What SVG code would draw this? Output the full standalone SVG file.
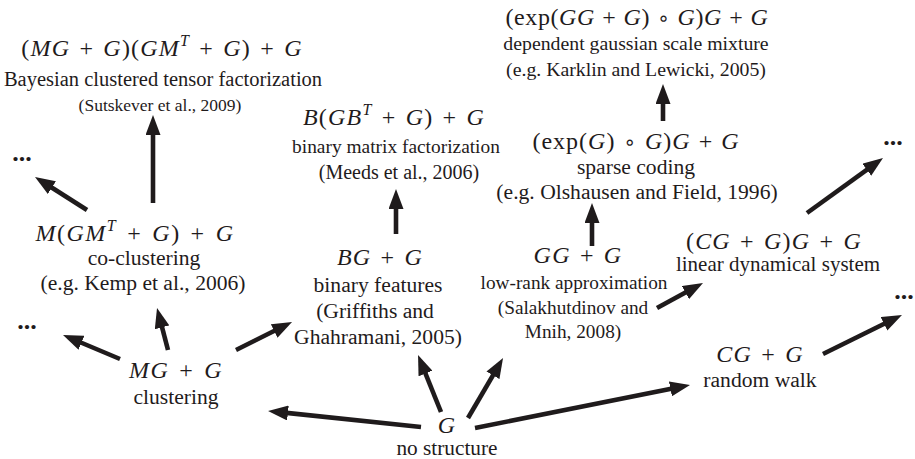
<svg xmlns="http://www.w3.org/2000/svg" width="915" height="459" viewBox="0 0 915 459">
<style>
text { font-family: "Liberation Serif", "Times New Roman", serif; fill: #1f1b1c; text-anchor: middle; }
.m { font-size: 24px; letter-spacing: 1.2px; word-spacing: 2px; }
.mw { letter-spacing: 1.5px; word-spacing: 2.5px; }
.i { font-style: italic; }
.sup { font-size: 16px; font-style: italic; }
.o { font-family: "DejaVu Sans", sans-serif; font-size: 20px; }
.l { font-size: 20px; }
.lb { font-size: 21.6px; }
.d { font-size: 26px; font-weight: bold; }
.c line { stroke: #1f1b1c; stroke-width: 4.6; marker-end: url(#ah); }
</style>
<defs>
<marker id="ah" markerUnits="userSpaceOnUse" viewBox="0 0 20 15" markerWidth="20" markerHeight="15" refX="11" refY="7.5" orient="auto">
<path d="M0,0 L20,7.5 L0,15 z" fill="#1f1b1c"/>
</marker>
</defs>
<rect width="915" height="459" fill="#ffffff"/>

<g id="bctf">
<text class="m" x="162" y="56">(<tspan class="i">MG</tspan> + <tspan class="i">G</tspan>)(<tspan class="i">GM</tspan><tspan class="sup" dy="-10">T</tspan><tspan dy="10"> + </tspan><tspan class="i">G</tspan>) + <tspan class="i">G</tspan></text>
<text class="l" x="163" y="86" style="font-size:20.5px">Bayesian clustered tensor factorization</text>
<text class="l" x="160" y="111" style="font-size:17.5px">(Sutskever et al., 2009)</text>
</g>

<g id="bmf">
<text class="m" x="394" y="125"><tspan class="i">B</tspan>(<tspan class="i">GB</tspan><tspan class="sup" dy="-10">T</tspan><tspan dy="10"> + </tspan><tspan class="i">G</tspan>) + <tspan class="i">G</tspan></text>
<text class="l" x="396" y="153" style="font-size:19.4px">binary matrix factorization</text>
<text class="l" x="399" y="179">(Meeds et al., 2006)</text>
</g>

<g id="dgsm">
<text class="m" x="637" y="25" style="letter-spacing:0.6px;word-spacing:0.6px">(exp(<tspan class="i">GG</tspan> + <tspan class="i">G</tspan>) <tspan class="o">∘</tspan> <tspan class="i">G</tspan>)<tspan class="i">G</tspan> + <tspan class="i">G</tspan></text>
<text class="l" x="636" y="50" style="font-size:19.8px">dependent gaussian scale mixture</text>
<text class="l" x="636" y="76" style="font-size:19.8px">(e.g. Karklin and Lewicki, 2005)</text>
</g>

<g id="sc">
<text class="m" x="636" y="149" style="letter-spacing:1px;word-spacing:1px">(exp(<tspan class="i">G</tspan>) <tspan class="o">∘</tspan> <tspan class="i">G</tspan>)<tspan class="i">G</tspan> + <tspan class="i">G</tspan></text>
<text class="lb" x="636" y="174">sparse coding</text>
<text class="lb" x="637" y="199">(e.g. Olshausen and Field, 1996)</text>
</g>

<g id="lowrank">
<text class="m" x="578" y="263"><tspan class="i">GG</tspan> + <tspan class="i">G</tspan></text>
<text class="l" x="574" y="289" style="font-size:19.3px">low-rank approximation</text>
<text class="l" x="573" y="314" style="font-size:19.3px">(Salakhutdinov and</text>
<text class="l" x="573" y="338" style="font-size:19.3px">Mnih, 2008)</text>
</g>

<g id="lds">
<text class="m" x="774" y="249">(<tspan class="i">CG</tspan> + <tspan class="i">G</tspan>)<tspan class="i">G</tspan> + <tspan class="i">G</tspan></text>
<text class="l" x="778" y="271" style="font-size:21px">linear dynamical system</text>
</g>

<g id="coclust">
<text class="m mw" x="135" y="241"><tspan class="i">M</tspan>(<tspan class="i">GM</tspan><tspan class="sup" dy="-10">T</tspan><tspan dy="10"> + </tspan><tspan class="i">G</tspan>) + <tspan class="i">G</tspan></text>
<text class="lb" x="144" y="265">co-clustering</text>
<text class="lb" x="143" y="290">(e.g. Kemp et al., 2006)</text>
</g>

<g id="binfeat">
<text class="m" x="380" y="265"><tspan class="i">BG</tspan> + <tspan class="i">G</tspan></text>
<text class="lb" x="378" y="292">binary features</text>
<text class="lb" x="375" y="318">(Griffiths and</text>
<text class="lb" x="378" y="344">Ghahramani, 2005)</text>
</g>

<g id="clust">
<text class="m mw" x="176" y="378"><tspan class="i">MG</tspan> + <tspan class="i">G</tspan></text>
<text class="lb" x="176" y="404">clustering</text>
</g>

<g id="rw">
<text class="m" x="760" y="362"><tspan class="i">CG</tspan> + <tspan class="i">G</tspan></text>
<text class="lb" x="760" y="387">random walk</text>
</g>

<g id="nostruct">
<text class="m" x="447" y="433"><tspan class="i">G</tspan></text>
<text class="lb" x="447" y="455" style="font-size:21.3px">no structure</text>
</g>

<g id="dots1"><text class="d" x="22" y="161">...</text></g>
<g id="dots2"><text class="d" x="27" y="329">...</text></g>
<g id="dots3"><text class="d" x="893" y="145">...</text></g>
<g id="dots4"><text class="d" x="904" y="299">...</text></g>

<g class="c" id="connectors">
<line x1="153" y1="203" x2="153" y2="124"/>
<line x1="396" y1="234" x2="396" y2="198"/>
<line x1="663" y1="121" x2="663" y2="93"/>
<line x1="592" y1="246" x2="592" y2="212"/>
<line x1="657" y1="308" x2="695.1" y2="287.3"/>
<line x1="807" y1="213" x2="875.7" y2="163.3"/>
<line x1="87" y1="210" x2="42.6" y2="181.8"/>
<line x1="120" y1="359" x2="71.3" y2="338.5"/>
<line x1="168" y1="350" x2="159.3" y2="316.7"/>
<line x1="236" y1="350" x2="284" y2="326"/>
<line x1="421" y1="427" x2="277" y2="411.9"/>
<line x1="441" y1="412" x2="421.4" y2="363.3"/>
<line x1="468" y1="418" x2="498.5" y2="365.8"/>
<line x1="475" y1="428" x2="681.2" y2="386.8"/>
<line x1="823" y1="354" x2="893.9" y2="319"/>
</g>
</svg>
